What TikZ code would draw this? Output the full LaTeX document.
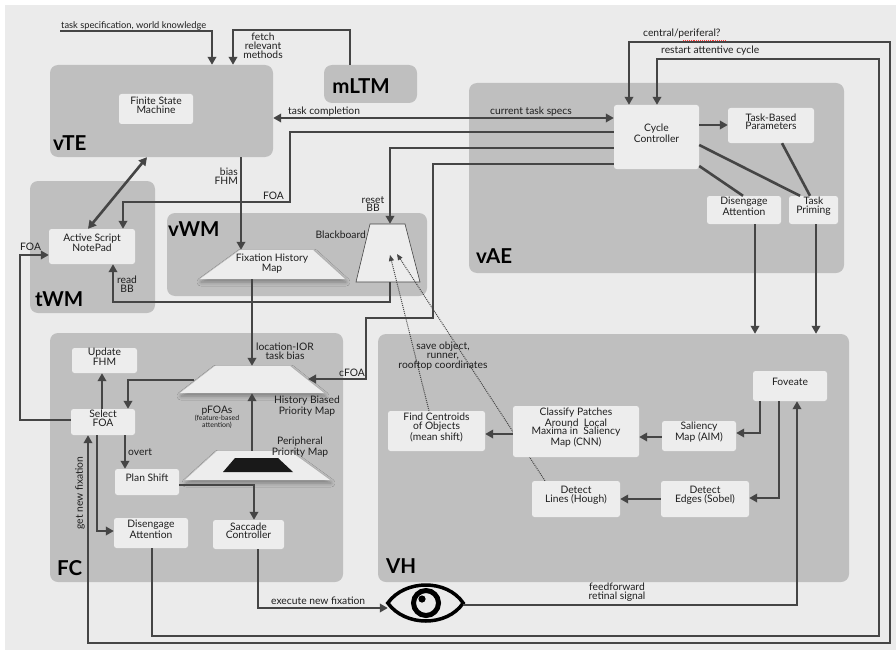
\documentclass[tikz,border=0pt]{standalone}
\usepackage{fontspec}
\setmainfont{Lato}
\usetikzlibrary{arrows.meta,fit,shadows.blur}
\definecolor{bgc}{HTML}{EBEBEB}
\definecolor{grpc}{HTML}{BFBFBF}
\definecolor{boxc}{HTML}{EDEDED}
\definecolor{lnc}{HTML}{454545}
\definecolor{txc}{HTML}{1E1E1E}
\begin{document}
\begin{tikzpicture}[x=1pt,y=-1pt,
  grp/.style={fill=grpc, rounded corners=8pt, inner sep=0pt},
  bx/.style={fill=boxc, rounded corners=2.5pt, inner sep=0pt, align=center, font=\fontsize{10.3}{8.8}\selectfont, text=txc},
  hid/.style={inner sep=0pt},
  ttl/.style={font=\fontsize{20.5}{20}\selectfont\bfseries, text=black, inner sep=0pt},
  lbl/.style={font=\fontsize{10.3}{8.8}\selectfont, text=txc, inner sep=0pt, align=center},
  ln/.style={draw=lnc, line width=2.6pt},
  arr/.style={ln, -{Triangle[length=8pt,width=8.5pt]}},
  darr/.style={ln, {Triangle[length=8pt,width=8.5pt]}-{Triangle[length=8pt,width=8.5pt]}},
  dotarr/.style={draw=lnc, line width=1pt, densely dotted, -{Triangle[length=6pt,width=5pt]}},
  trap/.style={fill=boxc, blur shadow={shadow xshift=1pt, shadow yshift=-3pt, shadow blur radius=4pt, shadow opacity=35}},
]
\useasboundingbox (0,0) rectangle (896,658);
\fill[white] (0,0) rectangle (896,658);
\fill[bgc] (5,5) rectangle (896,650);

% ---------- groups ----------
\node[grp, fit={(50,65) (273,157)}] (vte) {};
\node[grp, fit={(324,65) (417,103)}] (mltm) {};
\node[grp, fit={(469,83) (844,273)}] (vae) {};
\node[grp, fit={(30,181) (155,313)}] (twm) {};
\node[grp, fit={(167,213) (427,296)}] (vwm) {};
\node[grp, fit={(50,333) (343,582)}] (fc) {};
\node[grp, fit={(378,334) (849,582)}] (vh) {};

\node[ttl, anchor=base west] at (53,150) {vTE};
\node[ttl] at (361,86) {mLTM};
\node[ttl, anchor=base west] at (476,263) {vAE};
\node[ttl, anchor=base west] at (35,306) {tWM};
\node[ttl, anchor=base west] at (168,236) {vWM};
\node[ttl, anchor=base west] at (57,575) {FC};
\node[ttl, anchor=base west] at (386,573) {VH};

% ---------- hidden anchors for shapes ----------
\node[hid, fit={(200,250) (345,279)}] (fhm) {};
\node[hid, fit={(356,224) (420,282)}] (bb) {};
\node[hid, fit={(180,366) (324,393)}] (hbm) {};
\node[hid, fit={(185,451) (330,480)}] (ppm) {};
\node[hid, fit={(388,583) (463,623)}] (eye) {};

% ---------- blackboard + sources of dotted arrows ----------
\fill[boxc, draw=lnc, line width=0.6pt] (370,224) -- (405,224) -- (420,282) -- (356,282) -- cycle;
\node[bx, fit={(388,411) (485,451)}] (fnd) {Find Centroids\\of Objects\\(mean shift)};
\node[bx, fit={(532,481) (620,517)}] (lin) {Detect\\Lines (Hough)};
\coordinate (bbd1) at (390,255);
\coordinate (bbd2) at (397,254);
\coordinate (dx1) at (429,0);
\coordinate (dx2) at (545,0);
\draw[dotarr] (fnd.north -| dx1) -- (bbd1);
\draw[dotarr] (lin.north -| dx2) -- (bbd2);

% ---------- boxes ----------
\node[bx, fit={(119,94) (193,124)}] (fsm) {Finite State\\Machine};
\node[bx, fit={(614,105) (699,169)}] (cyc) {Cycle\\Controller};
\node[bx, fit={(728,108) (814,143)}] (tbp) {Task-Based\\Parameters};
\node[bx, fit={(707,196) (781,224)}] (disA) {Disengage\\Attention};
\node[bx, fit={(789,196) (838,224)}] (tpr) {Task\\Priming};
\node[bx, fit={(49,229) (135,264)}] (asn) {Active Script\\NotePad};
\node[bx, fit={(72,348) (137,373)}] (upd) {Update\\FHM};
\node[bx, fit={(71,409) (135,435)}] (sel) {Select\\FOA};
\node[bx, fit={(115,469) (179,495)}] (pln) {Plan Shift};
\node[bx, fit={(114,518) (188,548)}] (disF) {Disengage\\Attention};
\node[bx, fit={(213,520) (284,549)}] (sac) {Saccade\\Controller};
\node[bx, fit={(753,371) (827,401)}] (fov) {Foveate};
\node[bx, fit={(662,421) (736,451)}] (sal) {Saliency\\Map (AIM)};
\node[bx, fit={(513,406) (639,457)}] (cls) {Classify Patches\\Around\ \ Local\\Maxima in\ \ Saliency\\Map (CNN)};
\node[bx, fit={(661,481) (749,517)}] (edg) {Detect\\Edges (Sobel)};

% ---------- trapezoids ----------
\fill[trap] (240,250) -- (313,250) -- (345,279) -- (200,279) -- cycle;
\node[lbl] at (272,264) {Fixation History\\Map};
\fill[trap] (215,366) -- (290,366) -- (324,393) -- (180,393) -- cycle;
\fill[trap] (217,451) -- (290,451) -- (330,480) -- (185,480) -- cycle;
\fill[black!90] (235,458) -- (278,458) -- (293,472) -- (223,472) -- cycle;

% ---------- eye ----------
\draw[black, line width=3.5pt, line join=miter] (eye.west) .. controls (405,579) and (447,579) .. (eye.east) .. controls (447,627) and (405,627) .. (eye.west) -- cycle;
\draw[black, line width=5pt] (426,603) circle[radius=12.5];
\fill[black] (422,599) circle[radius=3.6];

% ---------- connectors ----------
\coordinate (tsL) at (60,31);
\coordinate (tsC) at (212,31);
\draw[arr] (tsL) -- (tsC) -- (tsC |- vte.north);
\node[lbl, anchor=base west, font=\fontsize{9.3}{8}\selectfont] at (61,29) {task specification, world knowledge};

\coordinate (fmA) at (350,30);
\coordinate (fmB) at (233,30);
\draw[arr] (mltm.north -| fmA) -- (fmA) -- (fmB) -- (fmB |- vte.north);
\node[lbl] at (263,45.5) {fetch\\relevant\\methods};

\coordinate (tcY) at (400,118);
\draw[darr] (vte.east |- tcY) -- (cyc.west |- tcY);
\node[lbl, anchor=base west] at (288,114) {task completion};
\node[lbl, anchor=base west] at (490,114) {current task specs};

\coordinate (f1) at (290,132);
\coordinate (f2) at (290,202);
\coordinate (f3) at (123,202);
\draw[arr] (cyc.west |- f1) -- (f1) -- (f2) -- (f3) -- (f3 |- asn.north);
\node[lbl, anchor=base east] at (284,199) {FOA};

\coordinate (r1) at (390,148);
\draw[arr] (cyc.west |- r1) -- (r1) -- (r1 |- bb.north);
\node[lbl] at (373,204) {reset\\BB};
\node[lbl, anchor=east] at (366,235) {Blackboard};

\coordinate (c1) at (433,164);
\coordinate (c2) at (433,318);
\coordinate (c3) at (366,318);
\coordinate (c4) at (366,379);
\coordinate (hbmE) at (308,379);
\draw[arr] (cyc.west |- c1) -- (c1) -- (c2) -- (c3) -- (c4) -- (hbmE);
\node[lbl, anchor=base west] at (339,376) {cFOA};

\coordinate (b1) at (241,0);
\draw[arr] (vte.south -| b1) -- (fhm.north -| b1);
\node[lbl, align=right, anchor=east] at (238,176) {bias\\FHM};

\coordinate (d1) at (147,0);
\coordinate (d2) at (88,0);
\draw[darr] (vte.south -| d1) -- (asn.north -| d2);

\coordinate (rb1) at (390,302);
\coordinate (rb2) at (113,302);
\draw[arr] (bb.south -| rb1) -- (rb1) -- (rb2) -- (rb2 |- asn.south);
\node[lbl] at (127,284) {read\\BB};

\coordinate (fl1) at (20,420);
\coordinate (fl2) at (20,255);
\draw[arr] (sel.west |- fl1) -- (fl1) -- (fl2) -- (fl2 -| asn.west);
\node[lbl, anchor=west] at (20,247) {FOA};

\coordinate (l1) at (252,0);
\draw[arr] (fhm.south -| l1) -- (hbm.north -| l1);
\node[lbl] at (285,351) {location-IOR\\task bias};

\coordinate (hbmW) at (194,380);
\coordinate (hs1) at (128,380);
\draw[arr] (hbmW) -- (hs1) -- (hs1 |- sel.north);

\coordinate (u1) at (102,0);
\draw[arr] (sel.north -| u1) -- (upd.south -| u1);

\draw[arr] (ppm.north -| l1) -- (hbm.south -| l1);
\node[lbl] at (307,406) {History Biased\\Priority Map};
\node[lbl] at (300,447) {Peripheral\\Priority Map};
\node[lbl] at (217,417) {pFOAs\\[-1pt]{\fontsize{7}{6}\selectfont (feature-based}\\[-2.5pt]{\fontsize{7}{6}\selectfont attention)}};

\coordinate (o1) at (125,0);
\draw[arr] (sel.south -| o1) -- (pln.north -| o1);
\node[lbl, anchor=west] at (128,452) {overt};

\coordinate (ps1) at (254,485);
\draw[arr] (pln.east |- ps1) -- (ps1) -- (ps1 |- sac.north);

\coordinate (sd1) at (97,531);
\draw[arr] (sel.south -| sd1) -- (sd1) -- (sd1 -| disF.west);

\coordinate (g1) at (88,643);
\coordinate (g2) at (890,643);
\coordinate (g3) at (890,42);
\coordinate (g4) at (629,42);
\draw[darr] (g1 |- sel.south) -- (g1) -- (g2) -- (g3) -- (g4) -- (g4 |- cyc.north);
\node[lbl, rotate=90] at (80,493) {get new fixation};
\node[lbl, anchor=base west] at (643,37) {central/periferal?};
\draw[red!80, densely dotted, line width=0.9pt] (683,40) -- (725,40);

\coordinate (rs1) at (152,636);
\coordinate (rs2) at (879,636);
\coordinate (rs3) at (879,59);
\coordinate (rs4) at (657,59);
\draw[arr] (disF.south -| rs1) -- (rs1) -- (rs2) -- (rs3) -- (rs4) -- (rs4 |- cyc.north);
\node[lbl, anchor=base west] at (661,54) {restart attentive cycle};

\coordinate (se1) at (258,608);
\draw[arr] (sac.south -| se1) -- (se1) -- (se1 -| eye.west);
\node[lbl, anchor=base west] at (271,604) {execute new fixation};

\coordinate (ef1) at (797,605);
\draw[arr] (eye.east |- ef1) -- (ef1) -- (ef1 |- fov.south);
\node[lbl] at (617,592) {feedforward\\retinal signal};

\coordinate (fs1) at (760,433);
\draw[arr] (fov.south -| fs1) -- (fs1) -- (fs1 -| sal.east);
\coordinate (fe1) at (779,498);
\draw[arr] (fov.south -| fe1) -- (fe1) -- (fe1 -| edg.east);

\coordinate (sc) at (650,437);
\draw[arr] (sal.west |- sc) -- (cls.east |- sc);
\coordinate (cf) at (500,434);
\draw[arr] (cls.west |- cf) -- (fnd.east |- cf);
\coordinate (el) at (640,499);
\draw[arr] (edg.west |- el) -- (lin.east |- el);

\node[lbl] at (443,356) {save object,\\runner,\\rooftop coordinates};

\coordinate (v1) at (755,0);
\draw[arr] (disA.south -| v1) -- (vh.north -| v1);
\coordinate (v2) at (816,0);
\draw[arr] (tpr.south -| v2) -- (vh.north -| v2);

\coordinate (ct) at (710,125);
\draw[arr] (cyc.east |- ct) -- (tbp.west |- ct);

\coordinate (pa) at (0,145);
\coordinate (pb) at (800,0);
\draw[ln] (cyc.east |- pa) -- (tpr.north -| pb);
\coordinate (pc) at (0,166);
\coordinate (pd) at (743,0);
\draw[ln] (cyc.east |- pc) -- (disA.north -| pd);
\coordinate (pe) at (782,0);
\coordinate (pf) at (810,0);
\draw[ln] (tbp.south -| pe) -- (tpr.north -| pf);
\end{tikzpicture}
\end{document}
